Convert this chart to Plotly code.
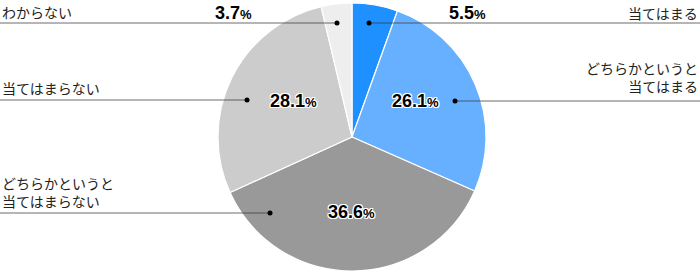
import plotly.graph_objects as go

W, H = 700, 272

categories = ["当てはまる", "どちらかというと<br>当てはまる", "どちらかというと<br>当てはまらない", "当てはまらない", "わからない"]
values = [5.5, 26.1, 36.6, 28.1, 3.7]
colors = ["#1e90ff", "#66b0ff", "#999999", "#cccccc", "#eeeeee"]

# label layout (pixel positions)
label_side = ["right", "right", "left", "left", "left"]
label_y = [13, 76.5, 191.5, 88, 12]
pct_xy = [(467, 13), (415, 101), (351, 212), (293, 101), (233, 13)]
pct_inside = [False, True, True, True, False]
dot_xy = [(369, 23), (455, 101), (270, 213), (247, 100), (337, 23)]

cx, cy, r = 352, 137, 134


def px(x):
    return x / W


def py(y):
    return 1 - y / H


fig = go.Figure(go.Pie(
    labels=[c.replace("<br>", "") for c in categories],
    values=values,
    sort=False,
    direction="clockwise",
    rotation=0,
    marker=dict(colors=colors, line=dict(color="#ffffff", width=1.2)),
    textinfo="none",
    hoverinfo="skip",
    showlegend=False,
    domain=dict(x=[px(cx - r), px(cx + r)], y=[py(cy + r), py(cy - r)]),
))

shapes = []
annotations = []
shadow = ("1px 1px 0 #fff, -1px -1px 0 #fff, 1px -1px 0 #fff, -1px 1px 0 #fff, "
          "0 1px 0 #fff, 0 -1px 0 #fff, 1px 0 0 #fff, -1px 0 0 #fff")

for i, cat in enumerate(categories):
    dx, dy = dot_xy[i]
    x_end = W if label_side[i] == "right" else 0
    shapes.append(dict(type="line", xref="paper", yref="paper",
                       x0=px(dx), x1=px(x_end), y0=py(dy), y1=py(dy),
                       line=dict(color="rgba(60,60,60,0.75)", width=1)))
    shapes.append(dict(type="circle", xref="paper", yref="paper",
                       x0=px(dx - 2.5), x1=px(dx + 2.5), y0=py(dy + 2.5), y1=py(dy - 2.5),
                       fillcolor="#000", line=dict(width=0)))
    lab_font = dict(family="Noto Sans CJK JP", size=14, color="#222")
    if label_side[i] == "right":
        annotations.append(dict(x=px(697), y=py(label_y[i]), xref="paper", yref="paper",
                                text=cat, showarrow=False, xanchor="right", yanchor="middle",
                                align="right", xshift=2, borderpad=0, font=lab_font))
    else:
        annotations.append(dict(x=px(3), y=py(label_y[i]), xref="paper", yref="paper",
                                text=cat, showarrow=False, xanchor="left", yanchor="middle",
                                align="left", xshift=-2, borderpad=0, font=lab_font))
    tx, ty = pct_xy[i]
    f = dict(family="Liberation Sans", size=18, color="#000", weight="bold")
    if pct_inside[i]:
        f["shadow"] = shadow
    annotations.append(dict(x=px(tx), y=py(ty), xref="paper", yref="paper",
                            text=f"{values[i]:.1f}<span style='font-size:13px'>%</span>",
                            showarrow=False, xanchor="center", yanchor="middle",
                            font=f))

fig.update_layout(
    width=W, height=H,
    margin=dict(l=0, r=0, t=0, b=0),
    paper_bgcolor="#ffffff",
    plot_bgcolor="#ffffff",
    shapes=shapes,
    annotations=annotations,
)

fig.write_html("out.html", config={"displayModeBar": False})
